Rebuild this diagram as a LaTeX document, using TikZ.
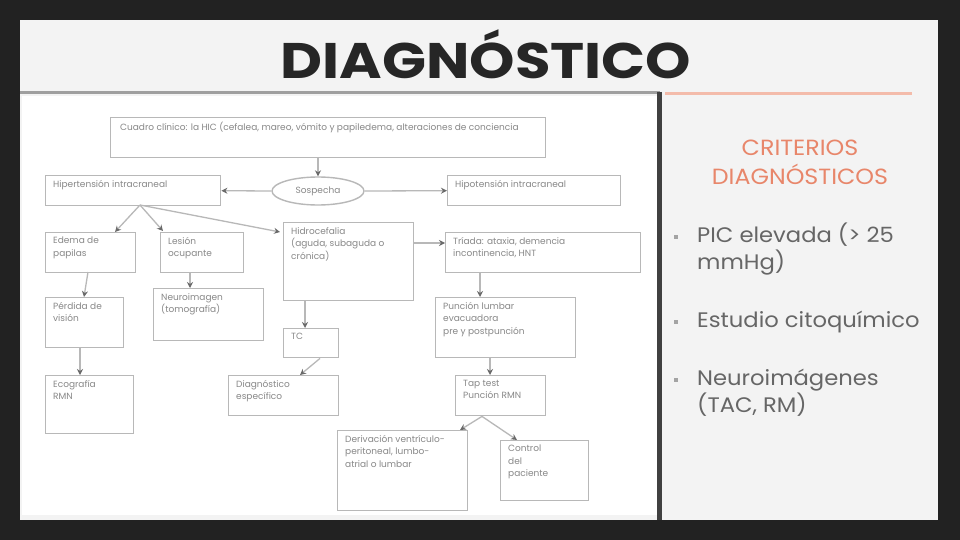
\documentclass[tikz,border=0pt]{standalone}
\usepackage{fontspec}
\setmainfont{Poppins}
\usetikzlibrary{arrows.meta,shapes.geometric}
\definecolor{bgdark}{HTML}{222222}
\definecolor{slide}{HTML}{F3F3F3}
\definecolor{boxline}{HTML}{B8B8B8}
\definecolor{txtgray}{HTML}{888888}
\definecolor{salmon}{HTML}{E8866A}
\definecolor{salmonline}{HTML}{F3BBAA}
\definecolor{bodygray}{HTML}{666666}
\definecolor{tipgray}{HTML}{6A6A6A}
\tikzset{
  bx/.style={draw=boxline, line width=1.4pt, rectangle, anchor=north west, inner sep=0pt},
  tx/.style={anchor=north west, text=txtgray, font=\fontsize{9}{12.5}\selectfont, align=left, inner sep=0pt},
  ar/.style={draw=boxline, line width=1.3pt, -{Stealth[length=6pt,width=6pt,color=tipgray]}},
  crit/.style={text=salmon, font=\fontsize{22}{29}\selectfont, align=center, xscale=1.08, transform shape},
  bul/.style={text=bodygray, font=\fontsize{21}{27}\selectfont, anchor=base west, align=left, inner sep=0pt, xscale=1.08, transform shape},
  dot/.style={rectangle, fill=bodygray!60, inner sep=0pt, minimum size=4.5pt}
}
\begin{document}
\begin{tikzpicture}[x=1pt,y=-1pt]
\useasboundingbox (0,0) rectangle (960,540);
\fill[bgdark] (0,0) rectangle (960,540);
\fill[slide] (20,20) rectangle (938,520);
\fill[white] (22,96) rectangle (657,515);
\draw[gray!75, line width=3pt] (20,93) -- (660,93);
\draw[black!75, line width=5pt] (659,92) -- (659,520);
\draw[salmonline, line width=3pt] (665,94) -- (912,94);
\node[font=\fontsize{50}{50}\bfseries, text=black!85, anchor=base, xscale=1.155, transform shape] (title) at (486,79) {DIAGNÓSTICO};

% flowchart
\node[bx, minimum width=435pt, minimum height=40pt] (top) at (110,117) {};
\node[tx] (topt) at (120,122) {Cuadro clínico: la HIC (cefalea, mareo, vómito y papiledema, alteraciones de conciencia};
\node[draw=boxline, line width=1.4pt, ellipse, minimum width=92pt, minimum height=28pt, text=txtgray, font=\fontsize{9}{12}\selectfont] (ell) at (318,191) {Sospecha};
\node[bx, minimum width=175pt, minimum height=30pt] (hic) at (45,175) {};
\node[tx] (hict) at (53,180) {Hipertensión intracraneal};
\node[bx, minimum width=173pt, minimum height=30pt] (hipo) at (447,175) {};
\node[tx] (hipot) at (455,180) {Hipotensión intracraneal};

\node[bx, minimum width=90pt, minimum height=40pt] (edema) at (45,232) {};
\node[tx] (edemat) at (53,237) {Edema de\\papilas};
\node[bx, minimum width=83pt, minimum height=40pt] (otras) at (160,232) {};
\node[tx] (otrast) at (168,237) {Lesión\\ocupante};
\node[bx, minimum width=130pt, minimum height=78pt] (hidro) at (283,222) {};
\node[tx] (hidrot) at (291,227) {Hidrocefalia\\(aguda, subaguda o\\crónica)};
\node[bx, minimum width=195pt, minimum height=40pt] (nph) at (445,232) {};
\node[tx] (npht) at (453,237) {Tríada: ataxia, demencia\\incontinencia, HNT};

\node[bx, minimum width=78pt, minimum height=50pt] (fondo) at (45,297) {};
\node[tx] (fondot) at (53,302) {Pérdida de\\visión};
\node[bx, minimum width=110pt, minimum height=52pt] (neuro) at (153,288) {};
\node[tx] (neurot) at (161,293) {Neuroimagen\\(tomografía)};
\node[bx, minimum width=55pt, minimum height=29pt] (tc) at (283,328) {};
\node[tx] (tct) at (291,333) {TC};
\node[bx, minimum width=140pt, minimum height=60pt] (punc) at (435,297) {};
\node[tx] (punct) at (443,302) {Punción lumbar\\evacuadora\\pre y postpunción};

\node[bx, minimum width=88pt, minimum height=58pt] (eco) at (45,375) {};
\node[tx] (ecot) at (53,380) {Ecografía\\RMN};
\node[bx, minimum width=110pt, minimum height=40pt] (diag) at (228,375) {};
\node[tx] (diagt) at (236,380) {Diagnóstico\\específico};
\node[bx, minimum width=90pt, minimum height=40pt] (tap) at (455,375) {};
\node[tx] (tapt) at (463,380) {Tap test\\Punción RMN};

\node[bx, minimum width=130pt, minimum height=80pt] (deriv) at (337,430) {};
\node[tx] (derivt) at (345,435) {Derivación ventrículo-\\peritoneal, lumbo-\\atrial o lumbar};
\node[bx, minimum width=88pt, minimum height=60pt] (ctrl) at (500,440) {};
\node[tx] (ctrlt) at (508,445) {Control\\del\\paciente};

\coordinate (hicb) at (140,205);
\draw[ar] (top.south -| ell.north) -- (ell.north);
\draw[ar] (ell.west) -- (hic.east);
\draw[ar] (ell.east) -- (hipo.west);
\draw[ar] (hicb) -- (edema.north east -| 115,232);
\draw[ar] (hicb) -- (163,231);
\draw[ar] (hicb) -- (280,232);
\draw[ar] (413,243) -- (nph.west |- 0,243);
\draw[ar] (88,272) -- (fondo.north -| 84,297);
\draw[ar] (otras.south -| 190,272) -- (neuro.north -| 190,288);
\draw[ar] (hidro.south -| 305,300) -- (tc.north -| 305,328);
\draw[ar] (tc.south -| 320,357) -- (diag.north -| 300,375);
\draw[ar] (fondo.south -| 80,347) -- (eco.north -| 80,375);
\draw[ar] (nph.south -| 480,272) -- (punc.north -| 480,297);
\draw[ar] (punc.south -| 490,357) -- (tap.north -| 490,375);
\draw[ar] (tap.south -| 482,415) -- (deriv.north east -| 460,430);
\draw[ar] (tap.south -| 482,415) -- (ctrl.north -| 517,440);

% right panel
\node[crit] (crit) at (800,162) {CRITERIOS\\DIAGNÓSTICOS};
\node[dot] (d1) at (676,237) {};
\node[bul] (b1) at (697,269) {PIC elevada (> 25\\mmHg)};
\node[dot] (d2) at (676,322) {};
\node[bul] (b2) at (697,327) {Estudio citoquímico};
\node[dot] (d3) at (676,380) {};
\node[bul] (b3) at (697,412) {Neuroimágenes\\(TAC, RM)};
\end{tikzpicture}
\end{document}
